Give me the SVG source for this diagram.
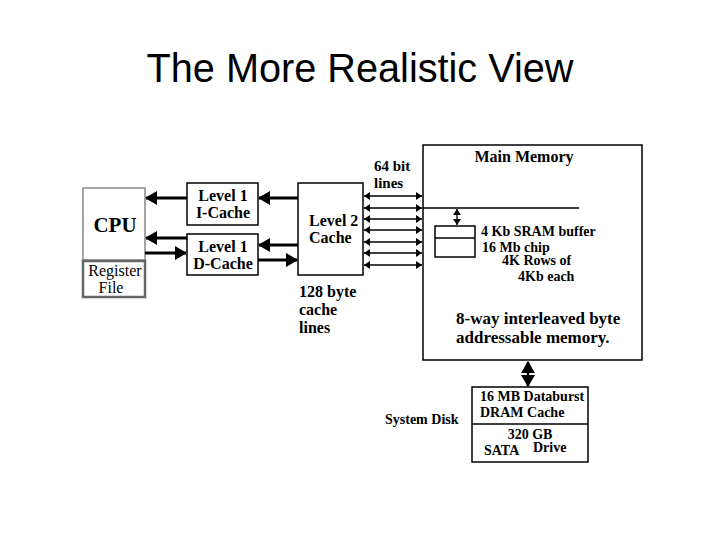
<svg xmlns="http://www.w3.org/2000/svg" width="720" height="540" viewBox="0 0 720 540">
<style>
.t{font-family:"Liberation Serif","Times New Roman",serif;font-weight:bold;fill:#000}
.n{font-family:"Liberation Serif","Times New Roman",serif;fill:#000}
.box{fill:#fff;stroke:#000;stroke-width:1.5}
.g{fill:#fff;stroke:#888;stroke-width:1.5}
.thick{stroke:#000;stroke-width:3;fill:none}
.thin{stroke:#000;stroke-width:1.3;fill:none}
</style>
<defs>
<marker id="big" markerUnits="userSpaceOnUse" markerWidth="12" markerHeight="14" refX="11" refY="7" orient="auto-start-reverse">
<path d="M0,0 L12,7 L0,14 Z" fill="#000"/>
</marker>
<marker id="sm" markerUnits="userSpaceOnUse" markerWidth="6" markerHeight="8" refX="6" refY="4" orient="auto-start-reverse">
<path d="M0,0 L6,4 L0,8 Z" fill="#000"/>
</marker>
</defs>
<rect width="720" height="540" fill="#fff"/>
<text x="360" y="82" text-anchor="middle" font-family="Liberation Sans, Arial, sans-serif" font-size="40" textLength="427" lengthAdjust="spacingAndGlyphs">The More Realistic View</text>

<g id="cpu">
<rect class="g" x="83" y="188" width="62" height="72"/>
<text class="t" x="115" y="232" text-anchor="middle" font-size="21">CPU</text>
</g>
<g id="register-file">
<rect x="83" y="261" width="62" height="36" fill="#fff" stroke="#666" stroke-width="2.5"/>
<text class="n" x="115" y="276" text-anchor="middle" font-size="16">Register</text>
<text class="n" x="111" y="293" text-anchor="middle" font-size="16">File</text>
</g>
<g id="l1-icache">
<rect class="box" x="187" y="183" width="71" height="42"/>
<text class="t" x="223" y="201" text-anchor="middle" font-size="16">Level 1</text>
<text class="t" x="223" y="218" text-anchor="middle" font-size="16">I-Cache</text>
</g>
<g id="l1-dcache">
<rect class="box" x="187" y="234" width="71" height="41"/>
<text class="t" x="223" y="252" text-anchor="middle" font-size="16">Level 1</text>
<text class="t" x="223" y="269" text-anchor="middle" font-size="16">D-Cache</text>
</g>
<g id="l2-cache">
<rect class="box" x="298" y="183" width="65" height="92"/>
<text class="t" x="309" y="226" font-size="16">Level 2</text>
<text class="t" x="309" y="243" font-size="16">Cache</text>
</g>
<g id="main-memory">
<rect class="box" x="423" y="145" width="219" height="215"/>
<text class="t" x="524" y="162" text-anchor="middle" font-size="16">Main Memory</text>
<line x1="423" y1="208" x2="579" y2="208" stroke="#000" stroke-width="1.5"/>
<rect class="box" x="435" y="226" width="40" height="31"/>
<line x1="435" y1="238" x2="475" y2="238" stroke="#000" stroke-width="1.5"/>
<text class="t" x="481" y="236" font-size="14">4 Kb SRAM buffer</text>
<text class="t" x="482" y="252" font-size="14">16 Mb chip</text>
<text class="t" x="502" y="265" font-size="14">4K Rows of</text>
<text class="t" x="518" y="281" font-size="14">4Kb each</text>
<text class="t" x="456" y="324" font-size="17">8-way interleaved byte</text>
<text class="t" x="456" y="343" font-size="17">addressable memory.</text>
</g>
<g id="system-disk">
<rect class="box" x="472" y="387" width="116" height="75"/>
<line x1="472" y1="424" x2="588" y2="424" stroke="#000" stroke-width="1.5"/>
<text class="t" x="480" y="401" font-size="14">16 MB Databurst</text>
<text class="t" x="480" y="417" font-size="14">DRAM Cache</text>
<text class="t" x="530" y="439" text-anchor="middle" font-size="14">320 GB</text>
<text class="t" x="484" y="455" font-size="14">SATA</text>
<text class="t" x="533" y="452" font-size="14">Drive</text>
</g>
<g id="labels">
<text class="t" x="374" y="171" font-size="15">64 bit</text>
<text class="t" x="374" y="188" font-size="15">lines</text>
<text class="t" x="299" y="297" font-size="16">128 byte</text>
<text class="t" x="299" y="315" font-size="16">cache</text>
<text class="t" x="299" y="333" font-size="16">lines</text>
<text class="t" x="385" y="424" font-size="14">System Disk</text>
</g>
<g id="connectors">
<line class="thick" x1="187" y1="198" x2="146" y2="198" marker-end="url(#big)"/>
<line class="thick" x1="298" y1="198" x2="259" y2="198" marker-end="url(#big)"/>
<line class="thick" x1="187" y1="238" x2="146" y2="238" marker-end="url(#big)"/>
<line class="thick" x1="145" y1="253" x2="186" y2="253" marker-end="url(#big)"/>
<line class="thick" x1="298" y1="245" x2="259" y2="245" marker-end="url(#big)"/>
<line class="thick" x1="258" y1="260" x2="297" y2="260" marker-end="url(#big)"/>
<line class="thin" x1="364" y1="196" x2="422" y2="196" marker-start="url(#sm)" marker-end="url(#sm)"/>
<line class="thin" x1="364" y1="208" x2="422" y2="208" marker-start="url(#sm)" marker-end="url(#sm)"/>
<line class="thin" x1="364" y1="219" x2="422" y2="219" marker-start="url(#sm)" marker-end="url(#sm)"/>
<line class="thin" x1="364" y1="230" x2="422" y2="230" marker-start="url(#sm)" marker-end="url(#sm)"/>
<line class="thin" x1="364" y1="242" x2="422" y2="242" marker-start="url(#sm)" marker-end="url(#sm)"/>
<line class="thin" x1="364" y1="253" x2="422" y2="253" marker-start="url(#sm)" marker-end="url(#sm)"/>
<line class="thin" x1="364" y1="265" x2="422" y2="265" marker-start="url(#sm)" marker-end="url(#sm)"/>
<line class="thin" x1="457" y1="209" x2="457" y2="225" marker-start="url(#sm)" marker-end="url(#sm)"/>
<line x1="528" y1="362" x2="528" y2="386" stroke="#000" stroke-width="2.5" marker-start="url(#big)" marker-end="url(#big)"/>
</g>
</svg>
